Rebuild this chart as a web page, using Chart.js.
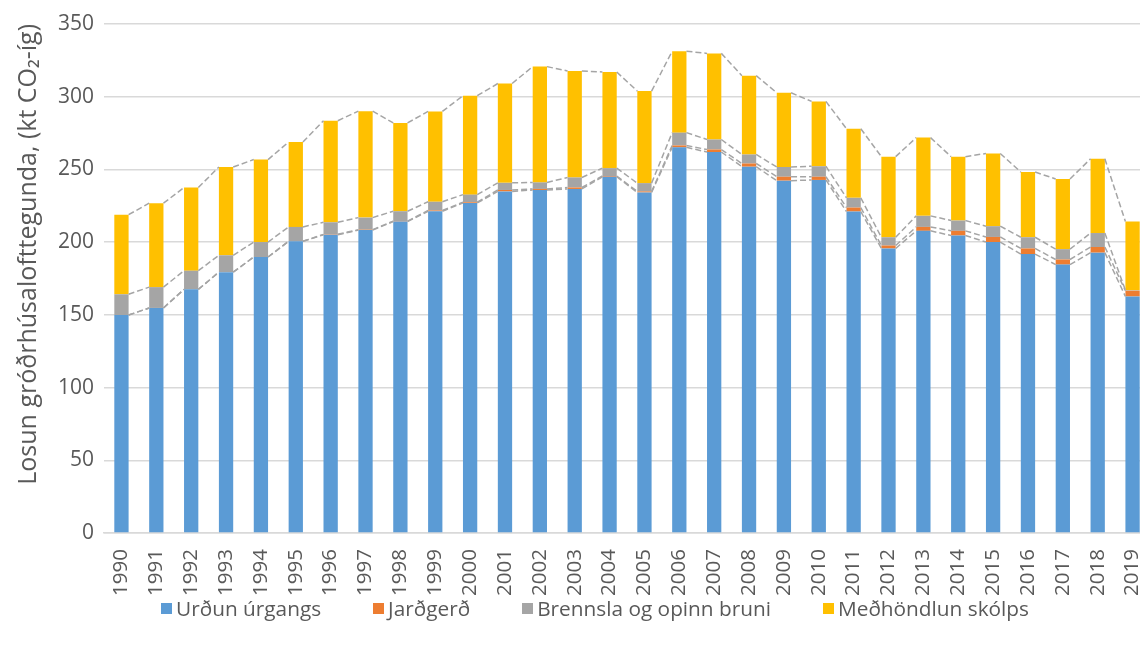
<!DOCTYPE html>
<html>
<head>
<meta charset="utf-8">
<script src="https://cdn.jsdelivr.net/npm/chart.js@4"></script>
<style>
    html, body { margin: 0; padding: 0; background: #fff; overflow: hidden; }
    #wrap { width: 1140px; height: 649px; overflow: hidden; position: relative; }
    #box { width: 1190px; height: 649px; position: absolute; left: 0; top: 0; }
    #legend {
        position: absolute; left: 0; top: 594px; width: 1190px;
        display: flex; justify-content: center; gap: 52px;
        font-family: "Open Sans", sans-serif; font-size: 20.8px; color: #595959;
    }
    #legend span.item { display: flex; align-items: center; white-space: nowrap; }
    #legend span.sw { display: inline-block; width: 11px; height: 11px; margin-right: 4px; }
</style>
</head>
<body>
<div id="wrap"><div id="box"><canvas id="chart"></canvas><div id="legend"></div></div></div>
<script>
const years = ['1990','1991','1992','1993','1994','1995','1996','1997','1998','1999',
    '2000','2001','2002','2003','2004','2005','2006','2007','2008','2009',
    '2010','2011','2012','2013','2014','2015','2016','2017','2018','2019'];

// Urðun úrgangs
const landfill = [149.9, 154.8, 167.6, 179.4, 189.8, 200.6, 205.1, 208.3, 214.2, 221.3,
    227.0, 234.9, 235.9, 236.6, 245.0, 234.2, 265.2, 262.0, 251.9, 242.3,
    242.8, 221.1, 195.7, 207.8, 204.6, 200.1, 191.8, 184.6, 192.8, 162.7];
// Jarðgerð
const compost = [0, 0, 0, 0, 0, 0, 0.3, 0.3, 0.3, 0.5,
    0.5, 1.0, 0.7, 1.0, 0.5, 0.7, 1.3, 1.7, 2.2, 2.7,
    2.2, 2.7, 2.0, 2.7, 3.2, 3.5, 3.9, 3.5, 3.9, 3.9];
// Brennsla og opinn bruni
const burning = [14.3, 14.3, 12.8, 11.6, 10.3, 9.9, 8.3, 8.3, 6.8, 6.0,
    5.2, 4.9, 4.5, 6.9, 5.4, 5.7, 8.8, 6.9, 6.2, 6.7,
    7.2, 6.7, 5.7, 7.6, 7.1, 7.4, 7.7, 7.1, 9.6, 0.3];
// Meðhöndlun skólps
const wastewater = [54.7, 57.7, 57.2, 60.7, 56.7, 58.4, 69.8, 73.2, 60.7, 62.1,
    68.0, 68.3, 79.6, 73.2, 66.1, 63.3, 56.0, 59.2, 54.2, 51.0,
    44.6, 47.5, 55.4, 53.8, 43.9, 50.0, 44.8, 48.3, 51.0, 47.3];

const yTicks = [0, 50, 100, 150, 200, 250, 300, 350];

const textColor = '#595959';
const fontFamily = '"Open Sans", sans-serif';

// dashed lines joining the segment tops from one bar to the next (Excel "series lines")
const seriesLines = {
    id: 'seriesLines',
    afterDatasetsDraw(chart) {
        const ctx = chart.ctx;
        ctx.save();
        ctx.strokeStyle = '#a5a5a5';
        ctx.lineWidth = 1.5;
        ctx.setLineDash([6, 3]);
        chart.data.datasets.forEach((ds, d) => {
            const bars = chart.getDatasetMeta(d).data;
            for (let i = 0; i < bars.length - 1; i++) {
                const a = bars[i], b = bars[i + 1];
                ctx.beginPath();
                ctx.moveTo(a.x + a.width / 2, a.y);
                ctx.lineTo(b.x - b.width / 2, b.y);
                ctx.stroke();
            }
        });
        ctx.restore();
    }
};

function buildLegend(chart) {
    const el = document.getElementById('legend');
    el.innerHTML = chart.data.datasets.map(ds => `
        <span class="item"><span class="sw" style="background:${ds.backgroundColor}"></span>${ds.label}</span>
    `).join('');
}

document.addEventListener('DOMContentLoaded', () => {
    const ctx = document.getElementById('chart').getContext('2d');
    const chart = new Chart(ctx, {
        type: 'bar',
        data: {
            labels: years,
            datasets: [
                { label: 'Urðun úrgangs', data: landfill, backgroundColor: '#5b9bd5' },
                { label: 'Jarðgerð', data: compost, backgroundColor: '#ed7d31' },
                { label: 'Brennsla og opinn bruni', data: burning, backgroundColor: '#a5a5a5' },
                { label: 'Meðhöndlun skólps', data: wastewater, backgroundColor: '#ffc000' }
            ]
        },
        options: {
            responsive: true,
            maintainAspectRatio: false,
            animation: false,
            layout: { padding: { top: 24, right: 40, left: 14, bottom: 45 } },
            datasets: {
                bar: { categoryPercentage: 0.41, barPercentage: 1 }
            },
            plugins: {
                tooltip: { enabled: false },
                legend: { display: false }
            },
            scales: {
                x: {
                    stacked: true,
                    grid: { display: false },
                    border: { color: '#d9d9d9', width: 1.5 },
                    ticks: {
                        color: textColor,
                        font: { family: fontFamily, size: 20.5 },
                        minRotation: 90,
                        maxRotation: 90,
                        autoSkip: false,
                        padding: 8
                    }
                },
                y: {
                    stacked: true,
                    min: 0,
                    max: 350,
                    afterBuildTicks: (axis) => { axis.ticks = yTicks.map(v => ({ value: v })); },
                    grid: { color: '#d9d9d9', lineWidth: 1.5, drawTicks: false },
                    border: { display: false },
                    ticks: {
                        color: textColor,
                        font: { family: fontFamily, size: 21 },
                        padding: 10
                    },
                    title: {
                        display: true,
                        align: 'end',
                        text: 'Losun gróðrhúsalofttegunda, (kt CO₂-íg)',
                        color: textColor,
                        font: { family: fontFamily, size: 25 },
                        padding: { top: 0, bottom: 4 }
                    }
                }
            }
        },
        plugins: [seriesLines]
    });
    buildLegend(chart);
});
</script>
</body>
</html>
